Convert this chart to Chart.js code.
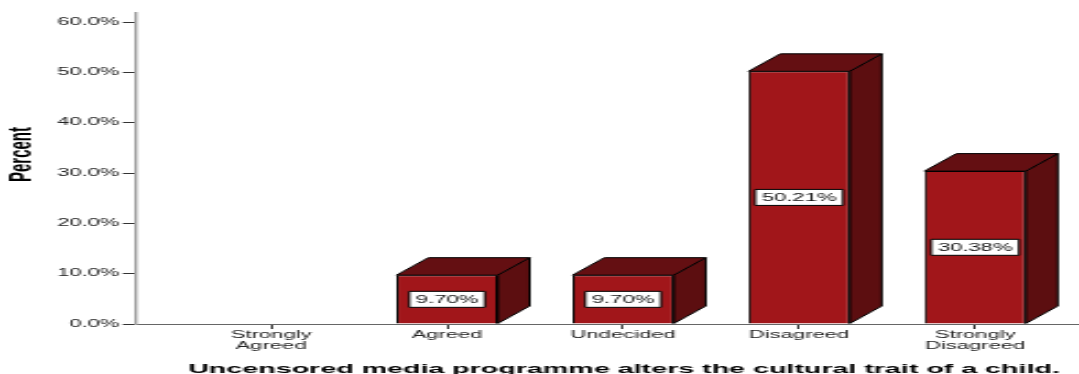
<!DOCTYPE html>
<html lang="en">
<head>
    <meta charset="UTF-8">
    <title>Uncensored media programme</title>
    <style>
        body { margin: 0; background: #fff; }
    </style>
</head>
<body>
    <!-- the reference is stretched sideways, so draw narrow and stretch with css -->
    <canvas id="myChart" width="490" height="374" style="width:1079px;height:374px;display:block"></canvas>

    <script src="https://cdn.jsdelivr.net/npm/chart.js"></script>

    <script>
        const categories = [['Strongly', 'Agreed'], 'Agreed', 'Undecided', 'Disagreed', ['Strongly', 'Disagreed']]
        const percents = [0, 9.70, 9.70, 50.21, 30.38]
        const yTicks = [0, 10, 20, 30, 40, 50, 60]
        const xTitle = 'Uncensored media programme alters the cultural trait of a child.'
        const yTitle = 'Percent'

        Chart.defaults.font.family = '"Liberation Sans", Arial, sans-serif'

        // side + top faces and the value boxes
        const box3d = {
            id: 'box3d',
            afterDatasetsDraw(chart, args, opts) {
                const ctx = chart.ctx
                const meta = chart.getDatasetMeta(0)
                meta.data.forEach((bar, i) => {
                    if (!percents[i]) return
                    const {x, y, width, base} = bar.getProps(['x', 'y', 'width', 'base'], true)
                    const l = x - width / 2, r = x + width / 2
                    const dx = opts.dx, dy = opts.dy
                    ctx.save()
                    ctx.lineWidth = 1
                    ctx.strokeStyle = '#000'
                    ctx.lineJoin = 'round'
                    // side
                    ctx.beginPath()
                    ctx.moveTo(r, y)
                    ctx.lineTo(r + dx, y - dy)
                    ctx.lineTo(r + dx, base - dy)
                    ctx.lineTo(r, base)
                    ctx.closePath()
                    ctx.fillStyle = opts.side
                    ctx.fill()
                    ctx.stroke()
                    // top
                    ctx.beginPath()
                    ctx.moveTo(l, y)
                    ctx.lineTo(l + dx, y - dy)
                    ctx.lineTo(r + dx, y - dy)
                    ctx.lineTo(r, y)
                    ctx.closePath()
                    ctx.fillStyle = opts.top
                    ctx.fill()
                    ctx.stroke()

                    // label box
                    const txt = percents[i].toFixed(2) + '%'
                    ctx.font = '10px "Liberation Sans", Arial, sans-serif'
                    const w = ctx.measureText(txt).width + 6
                    const h = 16
                    const cy = (y + base) / 2
                    ctx.fillStyle = '#fff'
                    ctx.fillRect(x - w / 2, cy - h / 2, w, h)
                    ctx.strokeRect(x - w / 2, cy - h / 2, w, h)
                    ctx.fillStyle = '#111'
                    ctx.textAlign = 'center'
                    ctx.textBaseline = 'middle'
                    ctx.fillText(txt, x, cy + 0.5)
                    ctx.restore()
                })
            }
        }

        // axis titles, a little off-centre like the original
        const axisTitles = {
            id: 'axisTitles',
            afterDraw(chart, args, opts) {
                const ctx = chart.ctx
                const area = chart.chartArea
                ctx.save()
                ctx.fillStyle = '#000'
                ctx.textAlign = 'center'
                ctx.textBaseline = 'alphabetic'
                ctx.font = 'bold 13px "Liberation Sans", Arial, sans-serif'
                ctx.fillText(xTitle, (area.left + area.right) / 2 + opts.xShift, chart.height - opts.xBottom)
                ctx.translate(opts.yLeft, (area.top + area.bottom) / 2 + opts.yShift)
                ctx.rotate(-Math.PI / 2)
                ctx.textBaseline = 'middle'
                ctx.font = 'bold 15px "Liberation Sans", Arial, sans-serif'
                ctx.fillText(yTitle, 0, 0)
                ctx.restore()
            }
        }

        const ctx = document.getElementById('myChart')
        new Chart(ctx, {
            type: 'bar',
            data: {
                datasets: [{
                    data: percents.map((v, i) => ({x: i, y: v})),
                    backgroundColor: '#A1161A',
                    borderColor: '#000',
                    borderWidth: 1,
                    categoryPercentage: 1,
                    barPercentage: 0.575
                }]
            },
            options: {
                responsive: false,
                animation: false,
                layout: { padding: { top: 13, right: 0, bottom: 0, left: 0 } },
                plugins: {
                    legend: { display: false },
                    tooltip: { enabled: false },
                    box3d: { dx: 14.5, dy: 17.5, side: '#5C0E10', top: '#640F12' },
                    axisTitles: { xShift: 7.5, xBottom: 1.5, yLeft: 10, yShift: -14 }
                },
                scales: {
                    x: {
                        type: 'linear',
                        offset: false,
                        min: -0.767,
                        max: 4.59,
                        afterFit: s => { s.height = 50 },
                        afterBuildTicks: s => { s.ticks = categories.map((c, i) => ({value: i})) },
                        grid: { offset: false, drawOnChartArea: false, tickLength: 5, color: '#333', lineWidth: 1 },
                        border: { color: '#666', width: 1 },
                        ticks: {
                            autoSkip: false,
                            maxRotation: 0,
                            padding: 1,
                            color: '#222',
                            font: { size: 10, lineHeight: 1.1 },
                            callback: v => categories[v]
                        }
                    },
                    y: {
                        min: 0,
                        max: 61.8,
                        afterFit: s => { s.width = 61.76 },
                        afterBuildTicks: s => { s.ticks = yTicks.map(v => ({value: v})) },
                        grid: { drawOnChartArea: false, tickLength: 6, color: '#333', lineWidth: 1 },
                        border: { color: '#a3a3a3', width: 1.4 },
                        ticks: {
                            padding: 1.5,
                            color: '#222',
                            font: { size: 10 },
                            callback: v => v.toFixed(1) + '%'
                        }
                    }
                }
            },
            plugins: [box3d, axisTitles]
        })
    </script>
</body>
</html>
